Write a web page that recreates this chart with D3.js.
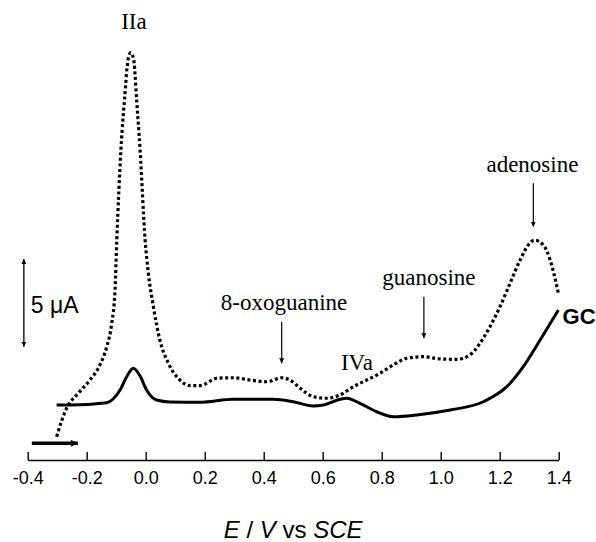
<!DOCTYPE html>
<html>
<head>
<meta charset="utf-8">
<script src="https://cdn.jsdelivr.net/npm/d3@7"></script>
<style>
  body { margin: 0; background: #fff; }
  svg { display: block; }
</style>
</head>
<body>
<script>
'use strict';

// potential (V vs SCE) and current (uA, above the axis line)
const voltTicks = [-0.4, -0.2, 0.0, 0.2, 0.4, 0.6, 0.8, 1.0, 1.2, 1.4];

// GC electrode, solid line
const gcVolt = [-0.302, -0.257, -0.132, -0.087, -0.063, -0.042, -0.019, 0.003, 0.037, 0.082,
  0.184, 0.297, 0.433, 0.500, 0.568, 0.602, 0.659, 0.681, 0.726, 0.783,
  0.839, 0.919, 1.032, 1.144, 1.224, 1.280, 1.337, 1.399];
const gcCurrent = [3.14, 3.14, 3.27, 3.99, 4.79, 5.23, 4.79, 3.99, 3.42, 3.31,
  3.29, 3.46, 3.46, 3.32, 3.08, 3.14, 3.46, 3.52, 3.23, 2.75,
  2.47, 2.57, 2.85, 3.32, 4.18, 5.32, 6.84, 8.55];

// dotted line
const dnaVolt = [-0.302, -0.268, -0.228, -0.189, -0.155, -0.132, -0.115, -0.104, -0.098, -0.084,
  -0.068, -0.064, -0.061, -0.059, -0.051, -0.045, -0.042, -0.039, -0.036, -0.034,
  -0.019, -0.002, 0.009, 0.026, 0.048, 0.077, 0.116, 0.150, 0.184, 0.241,
  0.297, 0.354, 0.410, 0.461, 0.489, 0.523, 0.568, 0.614, 0.659, 0.704,
  0.749, 0.794, 0.839, 0.885, 0.941, 0.998, 1.054, 1.099, 1.133, 1.167,
  1.201, 1.235, 1.269, 1.297, 1.318, 1.348, 1.371, 1.399];
const dnaCurrent = [1.33, 2.96, 3.82, 4.56, 5.42, 6.46, 7.81, 9.69, 12.54, 17.67,
  21.38, 22.27, 22.62, 22.90, 23.22, 23.10, 22.90, 22.62, 21.95, 21.38,
  17.67, 12.54, 10.66, 8.74, 6.84, 5.51, 4.56, 4.24, 4.24, 4.66,
  4.69, 4.56, 4.46, 4.69, 4.56, 4.10, 3.61, 3.52, 3.71, 4.18,
  4.56, 4.94, 5.42, 5.80, 5.89, 5.76, 5.74, 5.99, 6.65, 7.60,
  8.74, 10.07, 11.40, 12.26, 12.54, 12.26, 11.40, 9.50];

// peak annotations: label, label position (V, uA), arrow (V, from uA, to uA)
const peakLabels = ["IIa", "8-oxoguanine", "IVa", "guanosine", "adenosine"];
const labelVolt = [-0.040, 0.469, 0.716, 0.960, 1.311];
const labelCurrent = [24.56, 8.55, 5.13, 9.98, 16.44];
const arrowVolt = [null, 0.461, null, 0.943, 1.314];
const arrowFrom = [null, 7.88, null, 9.31, 15.78];
const arrowTo = [null, 5.51, null, 6.94, 13.30];

const width = 596, height = 542;

let svg = d3.select('body').append('svg')
  .attr('width', width)
  .attr('height', height);

let x = d3.scaleLinear().domain([-0.4, 1.4]).range([27.7, 558.7]);
let y = d3.scaleLinear().domain([0, 5]).range([460, 372.3]);

// arrow heads
let defs = svg.append('defs');
defs.append('marker')
  .attr('id', 'head')
  .attr('viewBox', '0 0 10 10')
  .attr('refX', 10).attr('refY', 5)
  .attr('markerUnits', 'userSpaceOnUse')
  .attr('markerWidth', 5).attr('markerHeight', 8)
  .attr('orient', 'auto-start-reverse')
  .append('path')
  .attr('d', 'M0,0 L10,5 L0,10 Z')
  .attr('fill', '#000');
defs.append('marker')
  .attr('id', 'bighead')
  .attr('viewBox', '0 0 10 10')
  .attr('refX', 10).attr('refY', 5)
  .attr('markerUnits', 'userSpaceOnUse')
  .attr('markerWidth', 14).attr('markerHeight', 7)
  .attr('orient', 'auto')
  .append('path')
  .attr('d', 'M0,0 L10,5 L0,10 Z')
  .attr('fill', '#000');

// x axis, ticks pointing up
let xAxis = d3.axisBottom(x)
  .tickValues(voltTicks)
  .tickSizeInner(-8)
  .tickSizeOuter(0)
  .tickFormat(d3.format('.1f'));
let gx = svg.append('g')
  .attr('transform', 'translate(0,' + y(0) + ')')
  .call(xAxis);
gx.select('.domain').attr('stroke-width', 1.4);
gx.selectAll('.tick line').attr('stroke-width', 1.4);
gx.selectAll('.tick text')
  .attr('y', 24)
  .attr('dy', null)
  .style('font-family', '"Liberation Sans", Arial, sans-serif')
  .style('font-size', '18px')
  .attr('fill', '#000')
  .text(d => d3.format('.1f')(d).replace('−', '-'));

let axisTitle = svg.append('text')
  .attr('x', (x(-0.4) + x(1.4)) / 2)
  .attr('y', 538)
  .attr('text-anchor', 'middle')
  .style('font-family', '"Liberation Sans", Arial, sans-serif')
  .style('font-size', '24px');
axisTitle.append('tspan').style('font-style', 'italic').text('E');
axisTitle.append('tspan').text(' / ');
axisTitle.append('tspan').style('font-style', 'italic').text('V');
axisTitle.append('tspan').text(' vs ');
axisTitle.append('tspan').style('font-style', 'italic').text('SCE');

// curves
let line = d3.line()
  .x(d => x(d[0]))
  .y(d => y(d[1]))
  .curve(d3.curveMonotoneX);

let gcData = gcVolt.map((v, i) => [v, gcCurrent[i]]);
let dnaData = dnaVolt.map((v, i) => [v, dnaCurrent[i]]);

svg.append('path')
  .datum(gcData)
  .attr('fill', 'none')
  .attr('stroke', '#000')
  .attr('stroke-width', 3)
  .attr('d', line);

svg.append('path')
  .datum(dnaData)
  .attr('fill', 'none')
  .attr('stroke', '#000')
  .attr('stroke-width', 3.2)
  .attr('stroke-dasharray', '3,2.6')
  .attr('d', line);

// scan direction arrow
svg.append('line')
  .attr('x1', x(-0.386)).attr('y1', y(0.95))
  .attr('x2', x(-0.23)).attr('y2', y(0.95))
  .attr('stroke', '#000')
  .attr('stroke-width', 3.5)
  .attr('marker-end', 'url(#bighead)');

// 5 uA scale bar
let barV = -0.413, barBase = 6.46;
svg.append('line')
  .attr('x1', x(barV)).attr('y1', y(barBase))
  .attr('x2', x(barV)).attr('y2', y(barBase + 5))
  .attr('stroke', '#000')
  .attr('stroke-width', 1.3)
  .attr('marker-start', 'url(#head)')
  .attr('marker-end', 'url(#head)');
svg.append('text')
  .attr('x', x(barV) + 7)
  .attr('y', 313)
  .style('font-family', '"Liberation Sans", Arial, sans-serif')
  .style('font-size', '23px')
  .text('5 \u03bcA');

// peak labels and arrows
peakLabels.forEach(function (label, i) {
  svg.append('text')
    .attr('x', x(labelVolt[i]))
    .attr('y', y(labelCurrent[i]))
    .attr('text-anchor', 'middle')
    .style('font-family', '"Liberation Serif", "Times New Roman", serif')
    .style('font-size', '23px')
    .text(label);
  if (arrowVolt[i] !== null) {
    svg.append('line')
      .attr('x1', x(arrowVolt[i])).attr('y1', y(arrowFrom[i]))
      .attr('x2', x(arrowVolt[i])).attr('y2', y(arrowTo[i]))
      .attr('stroke', '#000')
      .attr('stroke-width', 1.2)
      .attr('marker-end', 'url(#head)');
  }
});

svg.append('text')
  .attr('x', x(1.413))
  .attr('y', y(7.74))
  .style('font-family', '"Liberation Sans", Arial, sans-serif')
  .style('font-weight', 'bold')
  .style('font-size', '22px')
  .text('GC');
</script>
</body>
</html>
